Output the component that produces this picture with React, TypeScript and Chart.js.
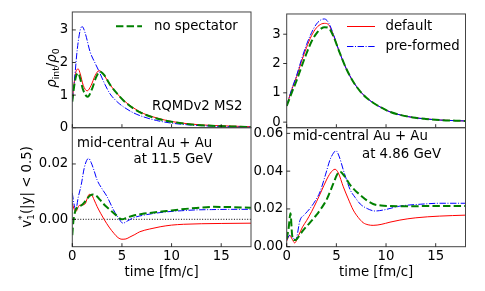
import React, { useEffect, useRef } from 'react';
import { Chart, registerables } from 'chart.js';
Chart.register(...registerables);

const FONT = '"DejaVu Sans", sans-serif';
const FS = 13.3;
const W = 485;
const H = 291;

// ---------- tick labels ----------
const X_TICKS = [0, 5, 10, 15];
const TL_Y_TICKS = [0, 1, 2, 3];
const TR_Y_TICKS = [0, 1, 2, 3];
const BL_Y_TICKS = [0, 0.02];
const BR_Y_TICKS = [0, 0.02, 0.04, 0.06];

// ---------- top-left: density, 11.5 GeV ----------
const TL_RED_T = [0, 0.2, 0.4, 0.6, 0.8, 1.1, 1.5, 1.9, 2.3, 2.7, 3.1, 3.8, 4.5, 5.2, 6.2, 7.2, 8.5, 10, 12, 14, 16, 18];
const TL_RED_V = [0.85, 1.4, 1.75, 1.8, 1.65, 1.3, 1.13, 1.3, 1.6, 1.75, 1.65, 1.32, 1.05, 0.83, 0.6, 0.43, 0.3, 0.19, 0.11, 0.07, 0.05, 0.03];
const TL_BLUE_T = [0, 0.2, 0.5, 0.8, 1.0, 1.3, 1.8, 2.3, 2.8, 3.3, 3.8, 4.5, 5.2, 6.2, 7.2, 8.5, 10, 12, 14, 16, 18];
const TL_BLUE_V = [0.8, 1.4, 2.4, 3.0, 3.1, 2.9, 2.32, 1.98, 1.66, 1.32, 1.04, 0.8, 0.63, 0.45, 0.33, 0.22, 0.14, 0.08, 0.05, 0.03, 0.02];
const TL_GREEN_T = [0, 0.2, 0.4, 0.6, 0.8, 1.1, 1.55, 2.0, 2.4, 2.8, 3.2, 3.8, 4.5, 5.2, 6.2, 7.2, 8.5, 10, 12, 14, 16, 18];
const TL_GREEN_V = [0.8, 1.3, 1.6, 1.68, 1.5, 1.15, 0.95, 1.2, 1.55, 1.72, 1.62, 1.32, 1.05, 0.82, 0.58, 0.42, 0.28, 0.18, 0.1, 0.06, 0.04, 0.02];

// ---------- top-right: density, 4.86 GeV ----------
const TR_T = [0, 0.5, 1, 1.5, 2, 2.5, 3, 3.5, 3.8, 4.2, 4.7, 5.3, 6, 6.7, 7.4, 8, 8.7, 9.5, 10.4, 11.5, 12.7, 14, 15.5, 17, 18];
const TR_RED_V = [0.55, 1.1, 1.55, 2.08, 2.55, 2.95, 3.22, 3.35, 3.37, 3.33, 2.97, 2.4, 1.82, 1.38, 1.05, 0.84, 0.66, 0.5, 0.35, 0.24, 0.16, 0.11, 0.07, 0.05, 0.04];
const TR_BLUE_V = [0.55, 1.12, 1.6, 2.15, 2.65, 3.05, 3.35, 3.5, 3.52, 3.4, 3.0, 2.4, 1.82, 1.38, 1.05, 0.84, 0.66, 0.5, 0.35, 0.24, 0.16, 0.11, 0.07, 0.05, 0.04];
const TR_GREEN_V = [0.55, 1.0, 1.42, 1.9, 2.35, 2.75, 3.03, 3.2, 3.24, 3.22, 2.93, 2.4, 1.82, 1.38, 1.05, 0.84, 0.66, 0.5, 0.35, 0.24, 0.16, 0.11, 0.07, 0.05, 0.04];

// ---------- bottom-left: v1*, 11.5 GeV ----------
const BL_RED_T = [0, 0.15, 0.35, 0.7, 1.0, 1.3, 1.5, 1.7, 1.95, 2.2, 2.5, 2.85, 3.2, 3.7, 4.2, 4.6, 5.0, 5.4, 5.8, 6.3, 6.8, 7.8, 8.85, 10, 11.2, 13, 15, 18];
const BL_RED_V = [0.0058, 0.004, 0.0028, 0.005, 0.0052, 0.0056, 0.0075, 0.009, 0.0088, 0.007, 0.0046, 0.0022, 0.0, -0.0028, -0.0051, -0.0066, -0.0072, -0.0071, -0.0064, -0.0055, -0.0045, -0.0035, -0.0027, -0.0021, -0.0018, -0.0016, -0.0015, -0.0014];
const BL_BLUE_T = [0, 0.15, 0.35, 0.6, 0.9, 1.2, 1.45, 1.65, 1.9, 2.2, 2.5, 3.0, 3.5, 4.15, 4.6, 5.1, 5.6, 6.2, 6.8, 8, 9.5, 11, 12.5, 14, 16, 18];
const BL_BLUE_V = [0.0095, 0.006, 0.0035, 0.008, 0.0125, 0.0185, 0.0213, 0.022, 0.0205, 0.0175, 0.0142, 0.011, 0.0082, 0.0034, 0.0008, -0.0014, -0.0005, 0.0006, 0.0012, 0.002, 0.0027, 0.0031, 0.0034, 0.0035, 0.0036, 0.0036];
const BL_GREEN_T = [0, 0.1, 0.3, 0.6, 0.9, 1.2, 1.5, 1.8, 2.1, 2.4, 2.8, 3.3, 3.8, 4.4, 5.0, 5.5, 6.1, 7, 8, 9.5, 11, 12.5, 14.2, 16, 18];
const BL_GREEN_V = [-0.0057, -0.001, 0.003, 0.0045, 0.005, 0.006, 0.0075, 0.0086, 0.009, 0.0086, 0.007, 0.005, 0.0034, 0.0015, 0.0, 0.0006, 0.0013, 0.0019, 0.0024, 0.003, 0.0036, 0.0041, 0.0045, 0.0044, 0.0042];
const BL_ZERO_T = [0, 18];
const BL_ZERO_V = [0, 0];

// ---------- bottom-right: v1*, 4.86 GeV ----------
const BR_RED_T = [0, 0.3, 0.55, 0.8, 1.2, 1.6, 2.0, 2.5, 3.0, 3.5, 4.0, 4.4, 4.86, 5.2, 5.7, 6.2, 6.7, 7.2, 7.7, 8.2, 8.7, 9.5, 10.4, 11.4, 13, 15.4, 18];
const BR_RED_V = [0.003, 0.006, 0.004, 0.002, 0.006, 0.0105, 0.0138, 0.0185, 0.0238, 0.0295, 0.0353, 0.039, 0.041, 0.039, 0.0317, 0.0253, 0.0194, 0.0155, 0.0127, 0.0116, 0.0113, 0.0118, 0.013, 0.0141, 0.0153, 0.0162, 0.0167];
const BR_BLUE_T = [0, 0.3, 0.6, 0.9, 1.34, 1.8, 2.35, 2.9, 3.35, 3.9, 4.36, 4.7, 4.96, 5.3, 5.7, 6.05, 6.4, 6.9, 7.4, 8.1, 8.9, 9.8, 11.4, 13.5, 15.4, 18];
const BR_BLUE_V = [0.0035, 0.006, 0.005, 0.0035, 0.014, 0.017, 0.0203, 0.0245, 0.029, 0.038, 0.046, 0.0495, 0.0508, 0.0475, 0.0406, 0.035, 0.03, 0.026, 0.0226, 0.0202, 0.0189, 0.0195, 0.0215, 0.0225, 0.023, 0.023];
const BR_GREEN_T = [0, 0.2, 0.38, 0.55, 0.8, 1.0, 1.67, 2.3, 3.0, 3.5, 4.0, 4.7, 5.1, 5.37, 5.8, 6.4, 6.9, 7.4, 8.0, 8.7, 9.5, 10.4, 12, 14, 16, 18];
const BR_GREEN_V = [0.004, 0.01, 0.0177, 0.006, 0.0035, 0.004, 0.0088, 0.0125, 0.0168, 0.0205, 0.0247, 0.0335, 0.0385, 0.0397, 0.0375, 0.0326, 0.0297, 0.0274, 0.0248, 0.0226, 0.0218, 0.0215, 0.0214, 0.0215, 0.0215, 0.0215];

// ---------- styles ----------
const RED = '#ff0000';
const BLUE = '#0000ff';
const GREEN = '#008000';
const DASH_GREEN = [7.4, 3.2];
const DASH_BLUE = [6.4, 1.6, 1, 1.6];

const pts = (t: number[], v: number[]) => t.map((x, i) => ({ x, y: v[i] }));

const redSet = (t: number[], v: number[]) => ({
  data: pts(t, v), borderColor: RED, borderWidth: 1, pointRadius: 0, fill: false,
  cubicInterpolationMode: 'monotone' as const,
});
const blueSet = (t: number[], v: number[]) => ({
  data: pts(t, v), borderColor: BLUE, borderWidth: 1, borderDash: DASH_BLUE, pointRadius: 0, fill: false,
  cubicInterpolationMode: 'monotone' as const,
});
const greenSet = (t: number[], v: number[]) => ({
  data: pts(t, v), borderColor: GREEN, borderWidth: 2, borderDash: DASH_GREEN, pointRadius: 0, fill: false,
  cubicInterpolationMode: 'monotone' as const,
});

type RichPart = { t: string; size?: number; italic?: boolean; dy?: number; noAdvance?: boolean };
type TextItem = { t: string; x: number; y: number; align?: CanvasTextAlign };
type LegendItem = { label: string; color: string; width: number; dash: number[]; x0: number; x1: number; y: number; tx: number };

type Panel = {
  area: { left: number; top: number; right: number; bottom: number };
  yMin: number; yMax: number; yTicks: number[]; yDecimals: number; yPad: number; yOut: boolean;
  showX: boolean;
  datasets: any[];
  texts: TextItem[];
  legend: LegendItem[];
  yTitle?: { parts: RichPart[]; cx: number; cy: number };
  xTitle?: { t: string; y: number };
};

function drawRich(ctx: CanvasRenderingContext2D, parts: RichPart[], cx: number, cy: number) {
  ctx.save();
  ctx.translate(cx, cy);
  ctx.rotate(-Math.PI / 2);
  ctx.fillStyle = '#000';
  ctx.textBaseline = 'alphabetic';
  ctx.textAlign = 'left';
  const fontOf = (p: RichPart) => `${p.italic ? 'italic ' : ''}${p.size ?? FS}px ${FONT}`;
  let total = 0;
  let pending = 0;
  for (const p of parts) {
    ctx.font = fontOf(p);
    const w = ctx.measureText(p.t).width;
    if (p.noAdvance) { pending = Math.max(pending, w); continue; }
    total += Math.max(w, pending);
    pending = 0;
  }
  let x = -total / 2;
  const base = FS * 0.36;
  pending = 0;
  for (const p of parts) {
    ctx.font = fontOf(p);
    const w = ctx.measureText(p.t).width;
    ctx.fillText(p.t, x, base + (p.dy ?? 0));
    if (p.noAdvance) { pending = Math.max(pending, w); continue; }
    x += Math.max(w, pending);
    pending = 0;
  }
  ctx.restore();
}

function makeConfig(p: Panel): any {
  const decor = {
    id: 'decor',
    afterDraw(chart: any) {
      const { ctx, chartArea: a, scales } = chart;
      ctx.save();
      ctx.strokeStyle = '#444';
      ctx.lineWidth = 1;
      ctx.setLineDash([]);
      ctx.strokeRect(a.left, a.top, a.right - a.left, a.bottom - a.top);
      ctx.strokeStyle = '#000';
      ctx.lineWidth = 0.8;
      const tl = 3.5;
      ctx.beginPath();
      for (const t of scales.x.ticks) {
        const px = scales.x.getPixelForValue(t.value);
        ctx.moveTo(px, a.bottom);
        ctx.lineTo(px, a.bottom - tl);
      }
      for (const t of scales.y.ticks) {
        const py = scales.y.getPixelForValue(t.value);
        if (p.yOut) { ctx.moveTo(a.left - tl, py); ctx.lineTo(a.left, py); }
        else { ctx.moveTo(a.left, py); ctx.lineTo(a.left + tl, py); }
      }
      ctx.stroke();

      ctx.fillStyle = '#000';
      ctx.font = `${FS}px ${FONT}`;
      ctx.textBaseline = 'middle';
      for (const it of p.texts) {
        ctx.textAlign = it.align ?? 'left';
        ctx.fillText(it.t, it.x, it.y);
      }
      for (const l of p.legend) {
        ctx.save();
        ctx.strokeStyle = l.color;
        ctx.lineWidth = l.width;
        ctx.setLineDash(l.dash);
        ctx.beginPath();
        ctx.moveTo(l.x0, l.y);
        ctx.lineTo(l.x1, l.y);
        ctx.stroke();
        ctx.restore();
        ctx.textAlign = 'left';
        ctx.fillText(l.label, l.tx, l.y);
      }
      if (p.xTitle) {
        ctx.textAlign = 'center';
        ctx.fillText(p.xTitle.t, (a.left + a.right) / 2, p.xTitle.y);
      }
      ctx.restore();
      if (p.yTitle) drawRich(ctx, p.yTitle.parts, p.yTitle.cx, p.yTitle.cy);
    },
  };

  const xH = p.showX ? H - p.area.bottom : 0;
  return {
    type: 'line',
    data: { datasets: p.datasets },
    options: {
      animation: false,
      responsive: false,
      events: [],
      layout: {
        padding: {
          left: 0,
          top: p.area.top,
          right: W - p.area.right,
          bottom: p.showX ? 0 : H - p.area.bottom,
        },
      },
      plugins: { legend: { display: false }, tooltip: { enabled: false }, title: { display: false } },
      scales: {
        x: {
          type: 'linear',
          min: 0,
          max: 18,
          grid: { display: false, drawTicks: false },
          border: { display: false },
          afterBuildTicks: (s: any) => { s.ticks = X_TICKS.map((v) => ({ value: v })); },
          afterFit: (s: any) => { s.height = xH; },
          ticks: {
            display: p.showX,
            padding: 1.5,
            color: '#000',
            font: { family: FONT, size: FS },
            callback: (v: number) => String(v),
          },
        },
        y: {
          type: 'linear',
          min: p.yMin,
          max: p.yMax,
          grid: { display: false, drawTicks: false },
          border: { display: false },
          afterBuildTicks: (s: any) => { s.ticks = p.yTicks.map((v) => ({ value: v })); },
          afterFit: (s: any) => { s.width = p.area.left; },
          ticks: {
            padding: p.yPad,
            color: '#000',
            font: { family: FONT, size: FS },
            callback: (v: number) => v.toFixed(p.yDecimals),
          },
        },
      },
    },
    plugins: [decor],
  };
}

const LEFT = 72.3;
const RIGHT_L = 251;
const LEFT_R = 286.7;
const RIGHT_R = 465.5;
const TOP = 8.7;
const MID = 127.7;
const BOTTOM = 246.7;

const PANELS: Panel[] = [
  {
    area: { left: LEFT, top: TOP, right: RIGHT_L, bottom: MID },
    yMin: 0, yMax: 3.55, yTicks: TL_Y_TICKS, yDecimals: 0, yPad: 4, yOut: false, showX: false,
    datasets: [greenSet(TL_GREEN_T, TL_GREEN_V), blueSet(TL_BLUE_T, TL_BLUE_V), redSet(TL_RED_T, TL_RED_V)],
    texts: [{ t: 'RQMDv2 MS2', x: 152, y: 106.7 }],
    legend: [{ label: 'no spectator', color: GREEN, width: 2, dash: DASH_GREEN, x0: 116, x1: 142, y: 26.3, tx: 154 }],
    yTitle: {
      cx: 51, cy: 68,
      parts: [
        { t: 'ρ', italic: true },
        { t: 'int', size: FS * 0.7, dy: FS * 0.22 },
        { t: '/' },
        { t: 'ρ', italic: true },
        { t: '0', size: FS * 0.7, dy: FS * 0.22 },
      ],
    },
  },
  {
    area: { left: LEFT_R, top: TOP, right: RIGHT_R, bottom: MID },
    yMin: -0.19, yMax: 3.69, yTicks: TR_Y_TICKS, yDecimals: 0, yPad: 6, yOut: true, showX: false,
    datasets: [greenSet(TR_T, TR_GREEN_V), blueSet(TR_T, TR_BLUE_V), redSet(TR_T, TR_RED_V)],
    texts: [],
    legend: [
      { label: 'default', color: RED, width: 1, dash: [], x0: 347, x1: 375, y: 26.5, tx: 385.5 },
      { label: 'pre-formed', color: BLUE, width: 1, dash: DASH_BLUE, x0: 347, x1: 375, y: 46.5, tx: 385.5 },
    ],
  },
  {
    area: { left: LEFT, top: MID, right: RIGHT_L, bottom: BOTTOM },
    yMin: -0.0099, yMax: 0.0331, yTicks: BL_Y_TICKS, yDecimals: 2, yPad: 4, yOut: false, showX: true,
    datasets: [
      greenSet(BL_GREEN_T, BL_GREEN_V), blueSet(BL_BLUE_T, BL_BLUE_V), redSet(BL_RED_T, BL_RED_V),
      { data: pts(BL_ZERO_T, BL_ZERO_V), borderColor: '#000', borderWidth: 1, borderDash: [1, 1.65], pointRadius: 0, fill: false },
    ],
    texts: [
      { t: 'mid-central Au + Au', x: 77, y: 143.3 },
      { t: 'at 11.5 GeV', x: 212.5, y: 160, align: 'right' },
    ],
    legend: [],
    xTitle: { t: 'time [fm/c]', y: 272.7 },
    yTitle: {
      cx: 26.5, cy: 187,
      parts: [
        { t: 'v' },
        { t: '*', size: FS * 0.7, dy: -FS * 0.45, noAdvance: true },
        { t: '1', size: FS * 0.7, dy: FS * 0.22 },
        { t: '(|y| < 0.5)' },
      ],
    },
  },
  {
    area: { left: LEFT_R, top: MID, right: RIGHT_R, bottom: BOTTOM },
    yMin: 0, yMax: 0.063, yTicks: BR_Y_TICKS, yDecimals: 2, yPad: 3.5, yOut: false, showX: true,
    datasets: [greenSet(BR_GREEN_T, BR_GREEN_V), blueSet(BR_BLUE_T, BR_BLUE_V), redSet(BR_RED_T, BR_RED_V)],
    texts: [
      { t: 'mid-central Au + Au', x: 292.7, y: 136.7 },
      { t: 'at 4.86 GeV', x: 441, y: 154.3, align: 'right' },
    ],
    legend: [],
    xTitle: { t: 'time [fm/c]', y: 272.7 },
  },
];

function PanelCanvas({ panel }: { panel: Panel }) {
  const ref = useRef<HTMLCanvasElement | null>(null);
  useEffect(() => {
    if (!ref.current) return;
    const chart = new Chart(ref.current, makeConfig(panel));
    return () => chart.destroy();
  }, [panel]);
  return (
    <canvas
      ref={ref}
      width={W}
      height={H}
      style={{ position: 'absolute', left: 0, top: 0, width: W, height: H }}
    />
  );
}

export default function App() {
  return (
    <div style={{ position: 'fixed', left: 0, top: 0, width: W, height: H, background: '#fff', overflow: 'hidden' }}>
      {PANELS.map((p, i) => (
        <PanelCanvas key={i} panel={p} />
      ))}
    </div>
  );
}
